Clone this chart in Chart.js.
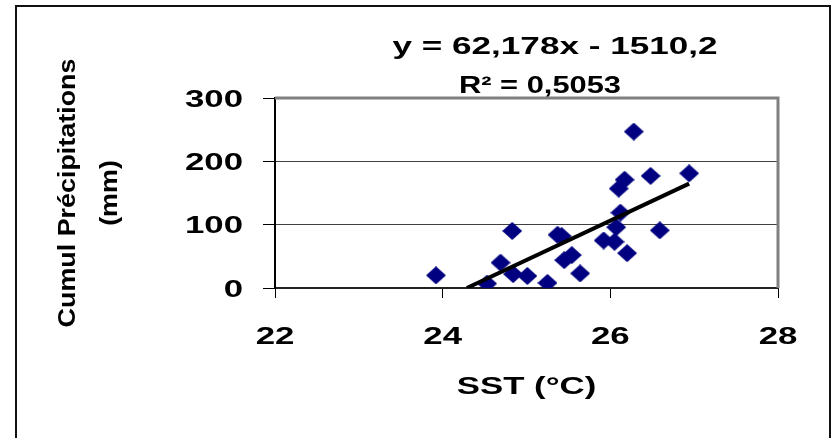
<!DOCTYPE html>
<html>
<head>
<meta charset="utf-8">
<script src="https://cdn.jsdelivr.net/npm/chart.js@4.4.1/dist/chart.umd.min.js"></script>
<style>
  html, body { margin: 0; padding: 0; background: #fff; }
  #wrap { position: relative; width: 832px; height: 438px; }
</style>
</head>
<body>
<div id="wrap"><canvas id="chartSST"></canvas></div>
<script>
// DONNEES : SST (°C) et cumul de precipitations (mm)
const sst    = [23.92, 24.53, 24.69, 24.83, 24.84, 25.01, 25.25, 25.37, 25.42, 25.45, 25.54, 25.64,
                25.92, 26.05, 26.07, 26.12, 26.10, 26.17, 26.20, 26.28, 26.48, 26.59, 26.94];
const precip = [20, 7, 40, 90, 22, 19, 8, 84, 82, 44, 52, 23,
                75, 73, 96, 119, 157, 171, 55, 247, 177, 91, 181];

const xTicks = [22, 24, 26, 28];
const yTicks = [0, 100, 200, 300];

// droite de tendance (Excel)
const slope = 62.178;
const intercept = -1510.2;
const eqLines = ["y = 62,178x - 1510,2", "R² = 0,5053"];

const xTitle = "SST (°C)";
const yTitle = ["Cumul Précipitations", "(mm)"];

const FONT = '"Liberation Sans", Arial, sans-serif';

// losange bleu marine (un peu plus large que haut, comme Excel)
function diamond(w, h, color) {
    const c = document.createElement('canvas');
    c.width = w; c.height = h;
    const g = c.getContext('2d');
    g.fillStyle = color;
    g.beginPath();
    g.moveTo(w / 2, 0); g.lineTo(w, h / 2); g.lineTo(w / 2, h); g.lineTo(0, h / 2);
    g.closePath();
    g.fill();
    return c;
}

// texte elargi horizontalement
function wideText(ctx, txt, x, y, sx, align) {
    const w = ctx.measureText(txt).width * sx;
    const left = align === 'right' ? x - w : (align === 'center' ? x - w / 2 : x);
    ctx.save();
    ctx.translate(left, y);
    ctx.scale(sx, 1);
    ctx.textAlign = 'left';
    ctx.fillText(txt, 0, 0);
    ctx.restore();
}

function fitText(ctx, txt, cx, y, width) {
    wideText(ctx, txt, cx, y, width / ctx.measureText(txt).width, 'center');
}

const x0 = -intercept / slope;
const x1 = Math.max(...sst);
const trend = [{ x: x0, y: slope * x0 + intercept }, { x: x1, y: slope * x1 + intercept }];

const bgPlugin = {
    id: 'bg',
    beforeDraw(chart) {
        const ctx = chart.ctx;
        ctx.save();
        ctx.fillStyle = '#fff';
        ctx.fillRect(0, 0, chart.width, chart.height);
        ctx.strokeStyle = '#111';
        ctx.lineWidth = 2;
        ctx.strokeRect(16, 6, 814, 450);
        ctx.restore();
    },
    beforeDatasetsDraw(chart) {
        const { ctx, chartArea: a } = chart;
        ctx.save();
        ctx.strokeStyle = '#808080';
        ctx.lineWidth = 3;
        ctx.beginPath();
        ctx.moveTo(a.left, a.top);
        ctx.lineTo(a.right, a.top);
        ctx.lineTo(a.right, a.bottom);
        ctx.stroke();
        ctx.restore();
    }
};

const textPlugin = {
    id: 'texts',
    afterDraw(chart) {
        const { ctx, chartArea: a, scales } = chart;
        ctx.save();
        ctx.fillStyle = '#000';
        ctx.textBaseline = 'alphabetic';
        ctx.font = 'bold 24px ' + FONT;

        yTicks.forEach(v => wideText(ctx, String(v), a.left - 32, scales.y.getPixelForValue(v) + 8.5, 1.45, 'right'));
        xTicks.forEach(v => wideText(ctx, String(v), scales.x.getPixelForValue(v), a.bottom + 56, 1.45, 'center'));
        wideText(ctx, xTitle, (a.left + a.right) / 2, a.bottom + 106, 1.45, 'center');

        fitText(ctx, eqLines[0], 555, 54, 325);
        fitText(ctx, eqLines[1], 540, 93, 162);

        ctx.font = 'bold 24px ' + FONT;
        ctx.textBaseline = 'middle';
        ctx.translate(68, (a.top + a.bottom) / 2);
        ctx.rotate(-Math.PI / 2);
        wideText(ctx, yTitle[0], 0, 0, 1.12, 'center');
        wideText(ctx, yTitle[1], 0, 42, 1.12, 'center');
        ctx.restore();
    }
};

new Chart(document.getElementById('chartSST'), {
    type: 'scatter',
    data: {
        datasets: [{
            label: 'Tendance',
            data: trend,
            showLine: true,
            borderColor: '#000',
            borderWidth: 4,
            pointRadius: 0
        }, {
            label: 'Cumul',
            data: sst.map((v, i) => ({ x: v, y: precip[i] })),
            pointStyle: diamond(20, 18, '#000080'),
            pointRadius: 10
        }]
    },
    options: {
        responsive: true,
        maintainAspectRatio: false,
        animation: false,
        layout: { padding: { left: 263, right: 54, top: 98, bottom: 140 } },
        plugins: { legend: { display: false }, tooltip: { enabled: false } },
        scales: {
            x: {
                type: 'linear', min: 22, max: 28,
                afterBuildTicks: s => { s.ticks = xTicks.map(v => ({ value: v })); },
                afterFit: s => { s.height = 10; },
                ticks: { display: false },
                grid: { drawOnChartArea: false, tickLength: 10, tickColor: '#000', tickWidth: 1 },
                border: { color: '#222', width: 2 }
            },
            y: {
                min: 0, max: 300,
                afterBuildTicks: s => { s.ticks = yTicks.map(v => ({ value: v })); },
                afterFit: s => { s.width = 12; },
                ticks: { display: false },
                grid: { color: '#404040', lineWidth: 1, tickLength: 12, tickColor: '#000' },
                border: { color: '#000', width: 2 }
            }
        }
    },
    plugins: [bgPlugin, textPlugin]
});
</script>
</body>
</html>
